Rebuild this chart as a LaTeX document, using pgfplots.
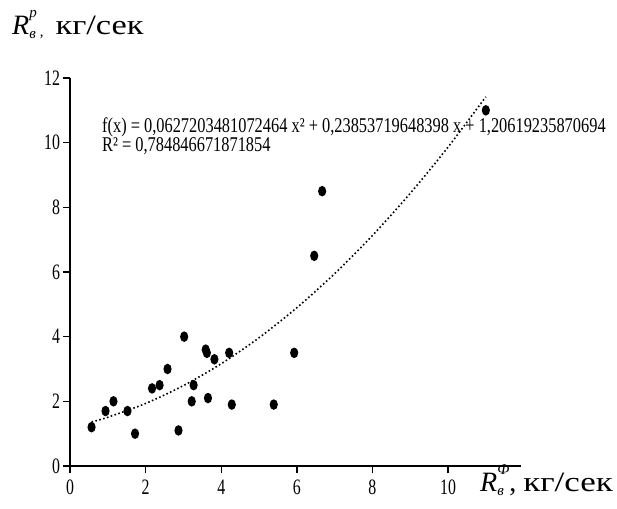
\documentclass[border=0pt]{standalone}
\usepackage{fontspec}
\setmainfont{Liberation Serif}
\usepackage{pgfplots}
\pgfplotsset{compat=1.18}
% filled oval marker, a bit taller than wide
\pgfdeclareplotmark{oval}{%
  \pgfpathellipse{\pgfpointorigin}{\pgfpoint{4.1pt}{0pt}}{\pgfpoint{0pt}{5.3pt}}%
  \pgfusepathqfill}

\begin{document}
\begin{tikzpicture}[x=1pt,y=1pt]
\begin{axis}[
    at={(70pt,42pt)}, anchor=south west,
    scale only axis, width=451pt, height=388pt,
    xmin=0, xmax=11.93, ymin=0, ymax=12,
    axis lines=left,
    axis line style={-, line width=1.4pt},
    xtick={0,2,...,10}, ytick={0,2,...,12},
    tick align=outside, major tick length=7pt,
    tick style={line width=1.4pt, black},
    xticklabel={\fontsize{22}{22}\selectfont\pgfmathprintnumber[assume math mode=true]{\tick}},
    yticklabel={\fontsize{22}{22}\selectfont\pgfmathprintnumber[assume math mode=true]{\tick}},
    xticklabel style={xscale=0.72, inner sep=1pt, yshift=-6pt},
    yticklabel style={xscale=0.72, inner sep=1pt, xshift=-3pt},
    clip=false,
]
\addplot[only marks, mark=oval, black] coordinates {
    (0.57,1.2) (0.94,1.7) (1.15,2.0) (1.52,1.7) (1.72,1.0)
    (2.17,2.4) (2.37,2.5) (2.58,3.0) (2.87,1.1) (3.02,4.0)
    (3.22,2.0) (3.27,2.5) (3.59,3.6) (3.62,3.5) (3.65,2.1)
    (3.82,3.3) (4.21,3.5) (4.28,1.9) (5.39,1.9) (5.93,3.5)
    (6.46,6.5) (6.67,8.5) (11.0,11.0)
};
% polynomial trendline, values from the printed equation
\addplot[black, line width=1.6pt, dash pattern=on 1.6pt off 2.4pt, smooth] coordinates {
    (0.57,1.3625) (1,1.5075) (2,1.9341) (3,2.4863) (4,3.1639)
    (5,3.9669) (6,4.8953) (7,5.9493) (8,7.1286) (9,8.4334)
    (10,9.8636) (11,11.4193)
};
\end{axis}
\node[anchor=base west, inner sep=0, xscale=0.78] at (102,375)
    {\fontsize{21}{21}\selectfont f(x) = 0,0627203481072464 x² + 0,23853719648398 x + 1,20619235870694};
\node[anchor=base west, inner sep=0, xscale=0.78] at (102,356)
    {\fontsize{21}{21}\selectfont R² = 0,784846671871854};
\node[anchor=base west, inner sep=0] at (12,473)
    {\fontsize{28}{28}\selectfont\textit{R}\rlap{\raisebox{-4pt}{\fontsize{15}{15}\selectfont\textit{в}}}\raisebox{17pt}{\fontsize{15}{15}\selectfont\textit{р}}\hspace{3pt}\raisebox{-2pt}{\fontsize{15}{15}\selectfont,}\hspace{12pt}\scalebox{1.23}[1]{кг/сек}};
\node[anchor=base west, inner sep=0] at (480,17)
    {\fontsize{28}{28}\selectfont\textit{R}\rlap{\raisebox{-4pt}{\fontsize{15}{15}\selectfont\textit{в}}}\raisebox{17pt}{\fontsize{15}{15}\selectfont\textit{Ф}}, \scalebox{1.25}[1]{кг/сек}};
\pgfresetboundingbox
\path[use as bounding box] (0,0) rectangle (617,508);
\end{tikzpicture}
\end{document}
